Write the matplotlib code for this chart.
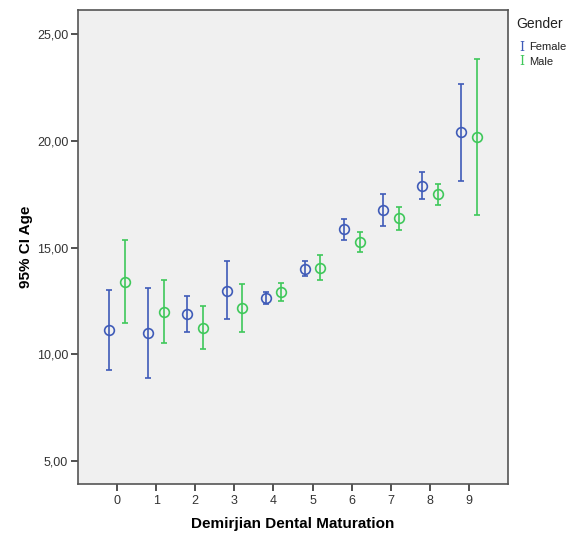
import matplotlib
matplotlib.use("Agg")
import matplotlib.pyplot as plt
import numpy as np

plt.rcParams['font.family'] = ['Liberation Sans', 'DejaVu Sans']

stages = [0, 1, 2, 3, 4, 5, 6, 7, 8, 9]

female_mean = [11.13, 11.00, 11.90, 12.99, 12.65, 13.99, 15.85, 16.76, 17.90, 20.40]
female_low = [9.26, 8.90, 11.06, 11.65, 12.35, 13.65, 15.37, 16.00, 17.26, 18.13]
female_high = [13.00, 13.09, 12.73, 14.35, 12.93, 14.35, 16.33, 17.51, 18.55, 22.66]

male_mean = [13.40, 12.00, 11.24, 12.18, 12.92, 14.04, 15.26, 16.37, 17.49, 20.16]
male_low = [11.46, 10.51, 10.23, 11.06, 12.48, 13.46, 14.78, 15.81, 17.00, 16.51]
male_high = [15.35, 13.49, 12.26, 13.30, 13.35, 14.63, 15.71, 16.91, 17.97, 23.83]

blue = '#3f5bb8'
green = '#3fc85a'

fig = plt.figure(figsize=(5.69, 5.35), dpi=100)
ax = fig.add_axes([0.137, 0.095, 0.756, 0.886])
ax.set_facecolor('#f0f0f0')

x = np.array(stages)
for off, mean, lo, hi, col in [(-0.2, female_mean, female_low, female_high, blue),
                               (0.2, male_mean, male_low, male_high, green)]:
    mean = np.array(mean)
    err = [mean - np.array(lo), np.array(hi) - mean]
    ax.errorbar(x + off, mean, yerr=err, fmt='o', mfc='none', mec=col, ecolor=col,
                ms=7, mew=1.2, elinewidth=1.2, capsize=2, capthick=1.2)

ax.set_xlim(-1, 10)
ax.set_ylim(3.92, 26.12)
ax.set_xticks(stages)
ax.set_yticks([5, 10, 15, 20, 25])
ax.set_yticklabels(['5,00', '10,00', '15,00', '20,00', '25,00'])
ax.tick_params(axis='both', labelsize=9, colors='#333333', length=5, width=1.2)
ax.tick_params(axis='y', pad=2)
ax.tick_params(axis='x', pad=3)
for s in ax.spines.values():
    s.set_color('#555555')
    s.set_linewidth(1.2)

ax.set_xlabel('Demirjian Dental Maturation', fontsize=11, fontweight='bold', labelpad=7)
ax.set_ylabel('95% CI Age', fontsize=11, fontweight='bold', labelpad=3)

fig.text(0.908, 0.955, 'Gender', fontsize=10, color='#222222', va='center')
fig.text(0.912, 0.912, 'I', fontsize=9, color=blue, va='center', family='DejaVu Serif')
fig.text(0.93, 0.912, 'Female', fontsize=8, color='#222222', va='center')
fig.text(0.912, 0.885, 'I', fontsize=9, color=green, va='center', family='DejaVu Serif')
fig.text(0.93, 0.885, 'Male', fontsize=8, color='#222222', va='center')

fig.savefig('out.png', dpi=100, facecolor='white')
